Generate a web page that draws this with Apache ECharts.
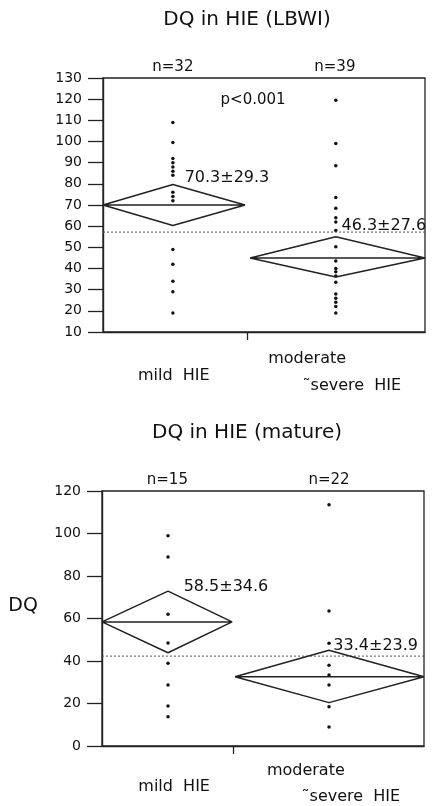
<!DOCTYPE html>
<html>
<head>
<meta charset="utf-8">
<script src="https://cdn.jsdelivr.net/npm/echarts@6/dist/echarts.min.js"></script>
<style>
html, body { margin: 0; padding: 0; background: #fff; }
#chart { width: 434px; height: 806px; }
</style>
</head>
<body>
<div id="chart"></div>
<script>
// upper panel: LBWI
const lbwiMild = [109, 99.5, 92, 90, 88, 86, 84, 76, 74, 72, 49, 42, 34, 29, 19];
const lbwiSevere = [119.5, 99, 88.5, 73.5, 68.5, 64, 62, 58, 50.3, 43.5, 40, 38.5, 36.5, 33.5, 28, 26, 24, 22, 19];
const lbwiMean = [70, 45];
const lbwiUpper = [79.7, 55];
const lbwiLower = [60.3, 36];
const lbwiGrand = 57.2;
const lbwiN = ["n=32", "n=39"];
const lbwiStats = ["70.3\u00b129.3", "46.3\u00b127.6"];

// lower panel: mature
const matMild = [99, 89, 62, 48.5, 39, 28.7, 18.8, 13.8];
const matSevere = [113.5, 63.5, 48.3, 38, 33.4, 28.7, 18.5, 9];
const matMean = [58.4, 32.6];
const matUpper = [72.9, 45.1];
const matLower = [43.9, 20.4];
const matGrand = 42.3;
const matN = ["n=15", "n=22"];
const matStats = ["58.5\u00b134.6", "33.4\u00b123.9"];

const groupNames = ["mild  HIE", "moderate", "\u02dcsevere  HIE"];

const font = "DejaVu Sans";
const ink = "#111";

function dots(idx, x, vals) {
  return {
    type: "scatter", xAxisIndex: idx, yAxisIndex: idx, silent: true,
    symbolSize: 3.5, itemStyle: { color: ink, opacity: 1 },
    data: vals.map(v => [x, v])
  };
}

function diamond(idx, xl, xc, xr, m, up, lo) {
  return {
    type: "line", xAxisIndex: idx, yAxisIndex: idx, symbol: "none", silent: true, clip: false,
    lineStyle: { color: "#222", width: 1.5 },
    data: [[xl, m], [xc, up], [xr, m], [xc, lo], [xl, m], [xr, m]]
  };
}

function grandLine(idx, g) {
  return {
    type: "line", xAxisIndex: idx, yAxisIndex: idx, symbol: "none", silent: true,
    lineStyle: { color: "#555", width: 1, type: [2, 2] },
    data: [[0, g], [100, g]]
  };
}

// t = [x, y, text, position, fontSize]
function texts(idx, items) {
  return {
    type: "scatter", xAxisIndex: idx, yAxisIndex: idx, clip: false, silent: true, z: 5,
    symbolSize: 1, itemStyle: { color: "transparent", opacity: 1 },
    data: items.map(t => ({
      value: [t[0], t[1]],
      label: {
        show: true, formatter: t[2], position: t[3] || "inside", distance: t[3] === "top" ? 3 : 0,
        color: ink, opacity: 1, fontFamily: font, fontSize: t[4] || 16
      }
    }))
  };
}

function yAxis(idx, min, max, step) {
  return {
    type: "value", gridIndex: idx, min: min, max: max, interval: step,
    axisLine: { show: true, lineStyle: { color: "#222", width: 1.4 } },
    axisTick: { show: true, length: 15, lineStyle: { color: "#222", width: 1.3 } },
    axisLabel: { margin: 21, color: ink, fontFamily: font, fontSize: 14 },
    splitLine: { show: false }
  };
}

function xAxis(idx, mid) {
  return {
    type: "value", gridIndex: idx, min: 0, max: 100,
    axisLine: { show: true, lineStyle: { color: "#222", width: 1.4 } },
    axisTick: { show: true, length: 8, customValues: [mid], lineStyle: { color: "#222", width: 1.3 } },
    axisLabel: { show: false },
    splitLine: { show: false }
  };
}

const chart = echarts.init(document.getElementById("chart"), null, { renderer: "canvas" });
chart.setOption({
  animation: false,
  backgroundColor: "#fff",
  graphic: [
    { type: "text", x: 247, y: 20, style: { text: "DQ in HIE (LBWI)", textAlign: "center", textVerticalAlign: "middle", fontFamily: font, fontSize: 20, fill: ink } },
    { type: "text", x: 247, y: 433, style: { text: "DQ in HIE (mature)", textAlign: "center", textVerticalAlign: "middle", fontFamily: font, fontSize: 20, fill: ink } }
  ],
  grid: [
    { left: 103, top: 78, width: 322, height: 254, show: true, borderColor: "#222", borderWidth: 1.3 },
    { left: 102, top: 491, width: 322, height: 255, show: true, borderColor: "#222", borderWidth: 1.3 }
  ],
  xAxis: [xAxis(0, 44.7), xAxis(1, 40.7)],
  yAxis: [yAxis(0, 10, 130, 10), yAxis(1, 0, 120, 20)],
  series: [
    grandLine(0, lbwiGrand),
    diamond(0, 0, 21.7, 44.1, lbwiMean[0], lbwiUpper[0], lbwiLower[0]),
    diamond(0, 45.7, 72.3, 100, lbwiMean[1], lbwiUpper[1], lbwiLower[1]),
    dots(0, 21.7, lbwiMild),
    dots(0, 72.3, lbwiSevere),
    texts(0, [
      [21.7, 130, lbwiN[0], "top", 15],
      [72.0, 130, lbwiN[1], "top", 15],
      [46.6, 119.6, "p<0.001", "inside", 15],
      [25.2, 82.8, lbwiStats[0], "right"],
      [73.9, 60.2, lbwiStats[1], "right"],
      [22, -10.8, groupNames[0]],
      [63.4, -2.7, groupNames[1]],
      [77.3, -15.5, groupNames[2]]
    ]),

    grandLine(1, matGrand),
    diamond(1, 0, 20.5, 40.4, matMean[0], matUpper[0], matLower[0]),
    diamond(1, 41.3, 70.5, 100, matMean[1], matUpper[1], matLower[1]),
    dots(1, 20.5, matMild),
    dots(1, 70.5, matSevere),
    texts(1, [
      [20.3, 120, matN[0], "top", 15],
      [70.5, 120, matN[1], "top", 15],
      [25.2, 74.8, matStats[0], "right"],
      [71.7, 47.2, matStats[1], "right"],
      [22.4, -19.4, groupNames[0]],
      [63.3, -11.8, groupNames[1]],
      [77.3, -23.8, groupNames[2]],
      [-24.5, 65.8, "DQ", "inside", 19]
    ])
  ]
});
</script>
</body>
</html>
